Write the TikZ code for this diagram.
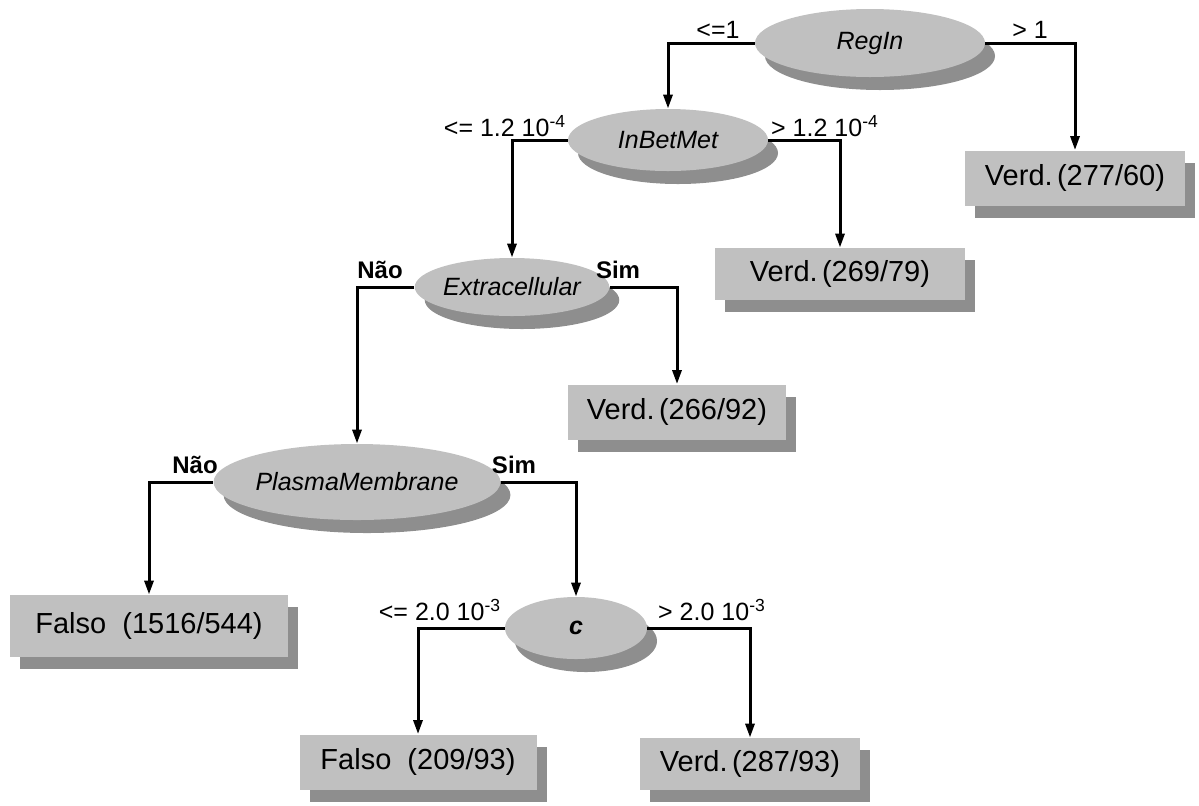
\documentclass[tikz,border=0pt]{standalone}
\usepackage{fontspec}
\setmainfont{Liberation Sans}
\usepackage{tikz}
\definecolor{nodegray}{HTML}{C0C0C0}
\definecolor{shadowgray}{HTML}{8E8E8E}
\usetikzlibrary{positioning, arrows, arrows.meta, shapes, shadows}
\usetikzlibrary{shapes.geometric}
\tikzstyle{arrow} = [line width=1.5pt,->,>={Triangle[length=7pt,width=4.5pt]}]

\begin{document}
\begin{tikzpicture}[x=0.5pt,y=-0.5pt]
                    \tikzstyle{every node}=[font=\fontsize{12.5}{14}\selectfont]
                    \tikzstyle{test} = [ellipse, fill=nodegray, inner sep=0pt, font=\fontsize{12.5}{14}\selectfont\itshape, general shadow={fill=shadowgray, shadow xshift=5pt, shadow yshift=-6.5pt}]
                    \tikzstyle{leaf} = [rectangle, fill=nodegray, inner sep=0pt, font=\fontsize{14.5}{16}\selectfont, general shadow={fill=shadowgray, shadow xshift=5pt, shadow yshift=-6pt}]
                    \tikzstyle{cond} = [draw=none, inner sep=0pt]
                    \tikzstyle{answer} = [draw=none, inner sep=0pt, font=\fontsize{12}{14}\selectfont\bfseries]

                    \useasboundingbox (0,0) rectangle (1199,805);

                    % tests
                    \node[test, minimum width=115pt, minimum height=34pt](v1) at (870,43) {RegIn};
                    \node[test, minimum width=100pt, minimum height=31pt](v2) at (668,140) {InBetMet};
                    \node[test, minimum width=97pt, minimum height=29pt](v3) at (512,287) {Extracellular};
                    \node[test, minimum width=119pt, minimum height=38pt](v4) at (357,482) {PlasmaMembrane};
                    \node[test, minimum width=71pt, minimum height=31pt](v5) at (576,628) {\textbf{c}};

                    % leaves
                    \node[leaf, minimum width=110pt, minimum height=27.5pt](l1) at (1075,178) {Verd.\hspace{0.15em}(277/60)};
                    \node[leaf, minimum width=125pt, minimum height=26pt](l2) at (840,274) {Verd.\hspace{0.15em}(269/79)};
                    \node[leaf, minimum width=109pt, minimum height=27.5pt](l3) at (677,412) {Verd.\hspace{0.15em}(266/92)};
                    \node[leaf, minimum width=139pt, minimum height=31pt](l4) at (149,626) {Falso\ \ (1516/544)};
                    \node[leaf, minimum width=118.5pt, minimum height=27.5pt](l5) at (418,762) {Falso\ \ (209/93)};
                    \node[leaf, minimum width=110pt, minimum height=26pt](l6) at (750,764) {Verd.\hspace{0.15em}(287/93)};

                    % conditions
                    \node[cond](c1) at (718,30) {<=1};
                    \node[cond](c2) at (1030,30) {> 1};
                    \node[cond](c3) at (505,126) {<= 1.2 10\textsuperscript{-4}};
                    \node[cond](c4) at (825,126) {> 1.2 10\textsuperscript{-4}};
                    \node[answer](c5) at (380,270) {Não};
                    \node[answer](c6) at (618,270) {Sim};
                    \node[answer](c7) at (195,465) {Não};
                    \node[answer](c8) at (514,465) {Sim};
                    \node[cond](c9) at (440,610) {<= 2.0 10\textsuperscript{-3}};
                    \node[cond](c10) at (712,610) {> 2.0 10\textsuperscript{-3}};

                    \draw[arrow] (v1.west) -| (v2.north);
                    \draw[arrow] (v1.east) -| (l1.north);
                    \draw[arrow] (v2.west) -| (v3.north);
                    \draw[arrow] (v2.east) -| (l2.north);
                    \draw[arrow] (v3.west) -| (v4.north);
                    \draw[arrow] (v3.east) -| (l3.north);
                    \draw[arrow] (v4.west) -| (l4.north);
                    \draw[arrow] (v4.east) -| (v5.north);
                    \draw[arrow] (v5.west) -| (l5.north);
                    \draw[arrow] (v5.east) -| (l6.north);
\end{tikzpicture}
\end{document}
